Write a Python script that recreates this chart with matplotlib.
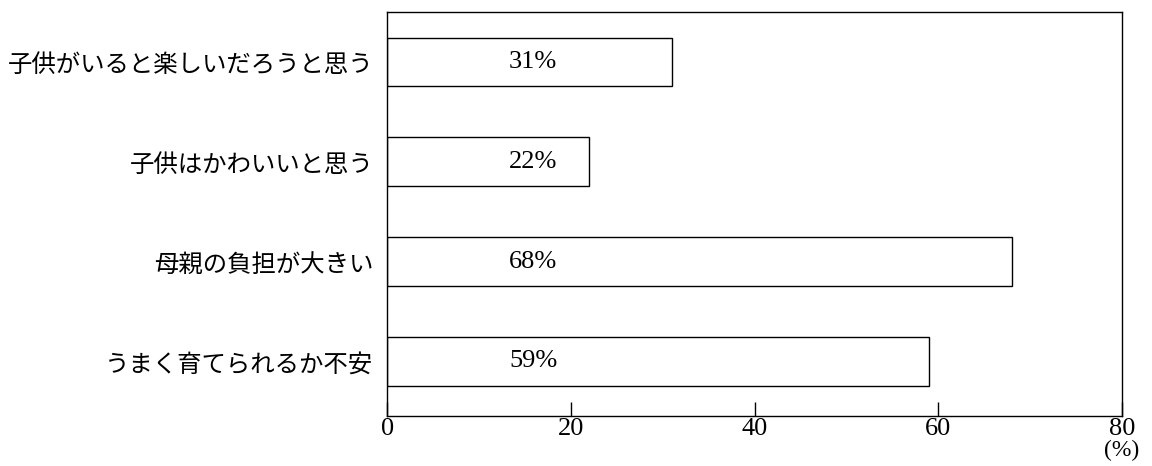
import matplotlib.pyplot as plt

# survey answers, top to bottom
labels = ["子供がいると楽しいだろうと思う", "子供はかわいいと思う", "母親の負担が大きい", "うまく育てられるか不安"]
values = [31, 22, 68, 59]
xticks = [0, 20, 40, 60, 80]

jp = ["Noto Sans CJK JP", "DejaVu Sans"]
num = "Liberation Serif"

fig = plt.figure(figsize=(11.52, 4.66), dpi=100)
ax = fig.add_axes([0.336, 0.107, 0.638, 0.867])

ypos = list(range(len(labels)))
ax.barh(ypos, values, height=0.49, color="white", edgecolor="black", linewidth=1.0)

for y, v in zip(ypos, values):
    ax.text(15.9, y, f"{v}%", ha="center", va="center", fontsize=19, family=num)

ax.set_xlim(0, 80)
ax.set_ylim(3.55, -0.5)
ax.set_yticks(ypos)
ax.set_yticklabels(labels, family=jp, fontsize=17.6)
ax.tick_params(axis="y", length=0, pad=10)

ax.set_xticks(xticks)
ax.set_xticklabels([str(t) for t in xticks], family=num, fontsize=19)
ax.tick_params(axis="x", direction="in", length=10, width=1, pad=1)

for s in ax.spines.values():
    s.set_linewidth(1.0)

ax.text(80, -0.058, "(%)", transform=ax.get_xaxis_transform(), ha="center", va="top",
        fontsize=17, family=num)

fig.savefig("out.png", dpi=100)
